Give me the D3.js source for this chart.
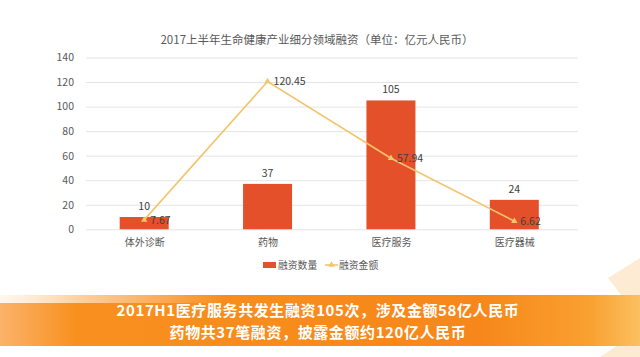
<!DOCTYPE html>
<html><head><meta charset="utf-8">
<script src="https://cdn.jsdelivr.net/npm/d3@7"></script>
<style>
html,body{margin:0;padding:0;background:#fff;}
svg{display:block;}
text{font-family:"Noto Sans CJK SC","Noto Sans",sans-serif;}
</style></head>
<body>
<svg id="chart" width="640" height="357"></svg>
<script>
const title = "2017上半年生命健康产业细分领域融资（单位：亿元人民币）";
const categories = ["体外诊断","药物","医疗服务","医疗器械"];
const countValues = [10, 37, 105, 24];
const amountValues = [7.67, 120.45, 57.94, 6.62];
const amountLabels = ["7.67","120.45","57.94","6.62"];
const yTicks = [0,20,40,60,80,100,120,140];
const seriesNames = ["融资数量","融资金额"];
const bannerLines = ["2017H1医疗服务共发生融资105次，涉及金额58亿人民币","药物共37笔融资，披露金额约120亿人民币"];

const svg = d3.select("#chart");
const barColor = "#e4502a", lineColor = "#f2c46c";

const defs = svg.append("defs");
const g1 = defs.append("linearGradient").attr("id","band").attr("x1","0").attr("x2","1").attr("y1","0").attr("y2","0");
g1.append("stop").attr("offset","0").attr("stop-color","#fbb36a");
g1.append("stop").attr("offset","0.12").attr("stop-color","#f8901f");
g1.append("stop").attr("offset","0.75").attr("stop-color","#f7871a");
g1.append("stop").attr("offset","0.92").attr("stop-color","#f9a030");
g1.append("stop").attr("offset","1").attr("stop-color","#fbc060");
const g2 = defs.append("linearGradient").attr("id","fade").attr("x1","0").attr("x2","1").attr("y1","0").attr("y2","0");
g2.append("stop").attr("offset","0").attr("stop-color","#fff").attr("stop-opacity","0.9");
g2.append("stop").attr("offset","0.35").attr("stop-color","#fff").attr("stop-opacity","0.0");

// decorative light shapes bottom right
svg.append("path").attr("d","M608,278 L640,258 L640,300 L625,300 Z").attr("fill","#fde6c8").attr("opacity",0.8);
svg.append("path").attr("d","M600,357 L640,330 L640,357 Z").attr("fill","#fde6c6").attr("opacity",0.8);

// banner
svg.append("rect").attr("x",0).attr("y",295).attr("width",640).attr("height",51).attr("fill","url(#band)");
svg.append("rect").attr("x",0).attr("y",295).attr("width",640).attr("height",8).attr("fill","url(#fade)");
svg.append("g").selectAll("text").data(bannerLines).join("text")
  .attr("x",318).attr("y",(d,i)=>315.5+i*22).attr("text-anchor","middle")
  .attr("fill","#fff").attr("font-weight","bold").attr("font-size",15)
  .attr("letter-spacing",0.6).text(d=>d);

const xp = d3.scalePoint().domain(categories).range([82.5,576]).padding(0.5);
const y = d3.scaleLinear().domain([0,140]).range([229.3,57.5]);

// title
svg.append("text").attr("x",317).attr("y",44).attr("text-anchor","middle").attr("fill","#595959").attr("font-size",11.5).text(title);

// grid
const yAxis = svg.append("g").attr("transform","translate(86,0)")
  .call(d3.axisLeft(y).tickValues(yTicks).tickSize(-492).tickPadding(12));
yAxis.select(".domain").remove();
yAxis.selectAll("line").attr("stroke","#e4e4e4");
yAxis.selectAll("text").attr("fill","#595959").attr("font-size",10.5);

// bars
const bw = 49;
svg.append("g").selectAll("rect").data(categories).join("rect")
  .attr("x",(d)=>xp(d)-bw/2).attr("width",bw)
  .attr("y",(d,i)=>y(countValues[i])).attr("height",(d,i)=>y(0)-y(countValues[i]))
  .attr("fill",barColor);
svg.append("g").selectAll("text").data(categories).join("text")
  .attr("x",d=>xp(d)).attr("y",(d,i)=>y(countValues[i])-7).attr("text-anchor","middle")
  .attr("fill","#404040").attr("font-size",10.5).text((d,i)=>countValues[i]);

// x labels
const xAxis = svg.append("g").attr("transform","translate(0,229.3)")
  .call(d3.axisBottom(xp).tickSize(0).tickPadding(10));
xAxis.select(".domain").remove();
xAxis.selectAll("text").attr("fill","#595959").attr("font-size",10);

// line
const line = d3.line().x((d,i)=>xp(categories[i])).y(d=>y(d));
svg.append("path").datum(amountValues).attr("d",line).attr("fill","none").attr("stroke",lineColor).attr("stroke-width",1.6);
const tri = d3.symbol().type(d3.symbolTriangle).size(18);
svg.append("g").selectAll("path").data(amountValues).join("path")
  .attr("transform",(d,i)=>`translate(${xp(categories[i])},${y(d)})`).attr("d",tri).attr("fill",lineColor);
svg.append("g").selectAll("text").data(amountValues).join("text")
  .attr("x",(d,i)=>xp(categories[i])+6).attr("y",(d)=>y(d)+4)
  .attr("fill","#404040").attr("font-size",10.5).text((d,i)=>amountLabels[i]);

// legend
const lg = svg.append("g");
lg.append("rect").attr("x",263).attr("y",262).attr("width",13).attr("height",6).attr("fill",barColor);
lg.append("text").attr("x",278).attr("y",269).attr("fill","#595959").attr("font-size",9.8).text(seriesNames[0]);
lg.append("line").attr("x1",325).attr("x2",338).attr("y1",265).attr("y2",265).attr("stroke",lineColor).attr("stroke-width",1.6);
lg.append("path").attr("transform","translate(331.5,265)").attr("d",tri).attr("fill",lineColor);
lg.append("text").attr("x",339).attr("y",269).attr("fill","#595959").attr("font-size",9.8).text(seriesNames[1]);
</script>
</body></html>
